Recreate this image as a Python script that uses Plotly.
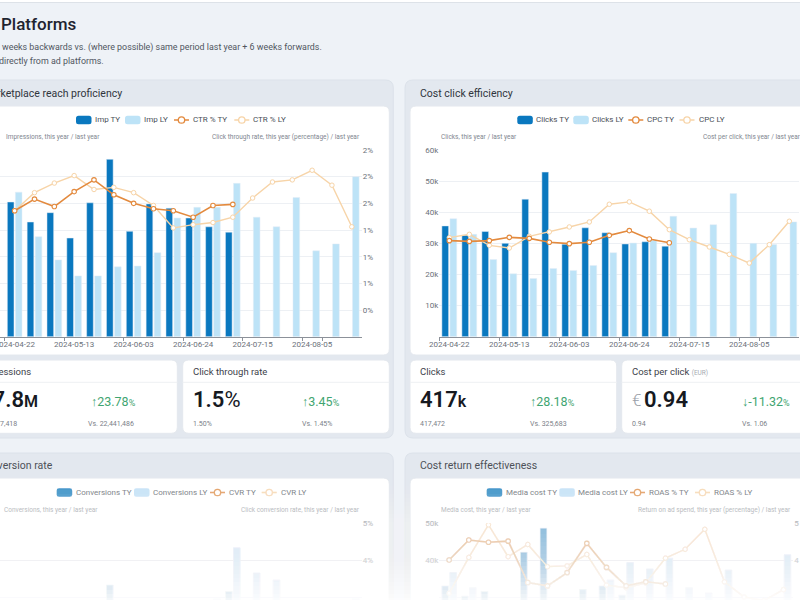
"""
Ad platforms dashboard: four weekly TY/LY combo charts with KPI cards,
bottom row fading out to white.
"""

import plotly.graph_objects as go

W, H = 800, 600

# ---------------- data ----------------
WEEKS = ["2024-04-22", "2024-04-29", "2024-05-06", "2024-05-13", "2024-05-20", "2024-05-27",
         "2024-06-03", "2024-06-10", "2024-06-17", "2024-06-24", "2024-07-01", "2024-07-08",
         "2024-07-15", "2024-07-22", "2024-07-29", "2024-08-05", "2024-08-12", "2024-08-19"]
WEEKS_TY = WEEKS[:12]
TICK_WEEKS = WEEKS[::3]

# impressions (millions) and click through rate (%)
IMP_TY = [2.525, 2.15, 2.325, 1.85, 2.51, 3.325, 1.975, 2.49, 2.41, 2.225, 2.06, 1.96]
IMP_LY = [2.71, 1.875, 1.44, 1.14, 1.14, 1.31, 1.325, 1.575, 2.225, 2.425, 2.425, 2.875,
          2.24, 2.06, 2.61, 1.61, 1.74, 3.0]
CTR_TY = [1.43, 1.54, 1.47, 1.61, 1.72, 1.58, 1.50, 1.45, 1.43, 1.37, 1.48, 1.49]
CTR_LY = [1.43, 1.60, 1.69, 1.76, 1.63, 1.65, 1.60, 1.48, 1.27, 1.30, 1.32, 1.37,
          1.55, 1.70, 1.72, 1.81, 1.67, 1.28]

# clicks and cost per click (EUR)
CLICKS_TY = [35600, 32600, 33800, 30000, 44200, 52900, 29700, 35000, 33400, 29800, 30500, 29100]
CLICKS_LY = [37900, 32900, 24800, 20200, 18700, 21900, 21300, 22900, 27000, 30100, 31000, 38700,
             34900, 36000, 46000, 30000, 29600, 36900]
CPC_TY = [0.926, 0.919, 0.926, 0.958, 0.948, 0.910, 0.897, 0.910, 0.977, 1.023, 0.942, 0.906]
CPC_LY = [0.955, 0.987, 0.881, 0.855, 0.968, 1.010, 1.058, 1.106, 1.277, 1.300, 1.210, 1.032,
          0.935, 0.865, 0.794, 0.710, 0.887, 1.113]

# conversions and click conversion rate (%)
CONV_TY = [2750, 2600, 2700, 2450, 2850, 3320, 2500, 2800, 2750, 2600, 2700, 3150]
CONV_LY = [2900, 2300, 1900, 1600, 1550, 1800, 1850, 2100, 2600, 2850, 2950, 4330,
           3650, 3460, 2900, 2500, 2700, 2950]
CVR_TY = [2.45, 2.50, 2.40, 2.60, 2.30, 2.20, 2.55, 2.40, 2.50, 2.60, 2.50, 2.70]
CVR_LY = [2.40, 2.30, 2.20, 2.25, 2.30, 2.35, 2.40, 2.50, 2.45, 2.50, 2.55, 2.75,
          2.70, 2.60, 2.20, 2.40, 2.50, 2.30]

# media cost (k EUR) and return on ad spend
MEDIA_TY = [33.0, 30.2, 31.5, 28.7, 42.1, 48.6, 26.6, 32.0, 33.0, 30.5, 28.7, 26.4]
MEDIA_LY = [36.6, 32.5, 21.8, 17.3, 18.1, 22.1, 22.5, 25.3, 34.6, 39.3, 37.6, 40.5,
            32.5, 31.1, 37.3, 21.3, 26.3, 41.4]
ROAS_TY = [4.00, 4.54, 4.48, 4.51, 3.39, 3.30, 3.66, 4.45, 3.80, 3.30, 3.41, 3.35]
ROAS_LY = [3.10, 4.07, 4.95, 4.09, 4.42, 3.82, 3.84, 4.15, 3.32, 3.25, 3.38, 4.05,
           4.29, 4.83, 3.41, 3.00, 2.90, 3.20]

CTR_TICKS = [0.5, 0.75, 1.0, 1.25, 1.5, 1.75, 2.0]
CTR_TICKTEXT = ["0%", "1%", "1%", "1%", "2%", "2%", "2%"]

# ---------------- style ----------------
FONT = "Roboto"
PAGE_BG = "#eef2f7"
PANEL_BG = "#e3e8ef"
C_TY = "#0a78bf"
C_LY = "#bde3f7"
C_RATE_TY = "#e38a3e"
C_RATE_LY = "#f7d4a8"
GRID = "#edf0f4"
AXIS = "#8c9199"
TICK_TXT = "#6c717a"
GREEN = "#3fa571"
LEG_TXT = "#4a4f57"

# fade-to-white overlay stops (pixel row, opacity)
FADE_STOPS = [(442, 0.0), (466, 0.14), (491, 0.30), (510, 0.45), (523, 0.56),
              (560, 0.72), (585, 0.88), (600, 0.96)]


def fx(x):
    return x / W


def fy(y):
    return 1 - y / H


def fade_at(y):
    if y <= FADE_STOPS[0][0]:
        return 0.0
    for (y0, a0), (y1, a1) in zip(FADE_STOPS, FADE_STOPS[1:]):
        if y <= y1:
            return a0 + (a1 - a0) * (y - y0) / (y1 - y0)
    return FADE_STOPS[-1][1]


def faded(hex_color, y):
    a = fade_at(y)
    h = hex_color.lstrip("#")
    rgb = [int(h[i:i + 2], 16) for i in (0, 2, 4)]
    rgb = [round(c + (255 - c) * a) for c in rgb]
    return "#%02x%02x%02x" % tuple(rgb)


shapes = []
annotations = []


def rrect(x0, y0, x1, y1, r, fill, line=None, layer="below"):
    """Rounded rectangle given in pixel coordinates."""
    def p(x, y):
        return f"{fx(x):.5f},{fy(y):.5f}"
    path = (f"M{p(x0 + r, y0)} L{p(x1 - r, y0)} Q{p(x1, y0)} {p(x1, y0 + r)} "
            f"L{p(x1, y1 - r)} Q{p(x1, y1)} {p(x1 - r, y1)} L{p(x0 + r, y1)} "
            f"Q{p(x0, y1)} {p(x0, y1 - r)} L{p(x0, y0 + r)} Q{p(x0, y0)} {p(x0 + r, y0)} Z")
    shapes.append(dict(type="path", path=path, xref="paper", yref="paper",
                       fillcolor=fill, layer=layer,
                       line=dict(color=line or fill, width=1 if line else 0)))


def hline(x0, x1, y, color, width=1, layer="below"):
    shapes.append(dict(type="line", xref="paper", yref="paper", x0=fx(x0), x1=fx(x1),
                       y0=fy(y), y1=fy(y), layer=layer, line=dict(color=color, width=width)))


def text(s, x, y, size, color, anchor="left", weight=None, fade=False):
    if fade:
        color = faded(color, y)
    annotations.append(dict(text=s, x=fx(x), y=fy(y), xref="paper", yref="paper",
                            xanchor=anchor, yanchor="middle", showarrow=False,
                            font=dict(family=FONT, size=size, color=color, weight=weight)))


def legend_bar(x0, yc, color, label, fade=False):
    rrect(x0, yc - 4.3, x0 + 15.5, yc + 4.3, 2.5, color, layer="above")
    text(label, x0 + 17, yc, 8, LEG_TXT, fade=fade)


def legend_line(x0, yc, color, label, fade=False):
    hline(x0, x0 + 15, yc, color, 1.5, layer="above")
    cx, r = x0 + 7.5, 3.2
    shapes.append(dict(type="circle", xref="paper", yref="paper", layer="above",
                       x0=fx(cx - r), x1=fx(cx + r), y0=fy(yc + r), y1=fy(yc - r),
                       fillcolor="white", line=dict(color=color, width=1.3)))
    text(label, x0 + 17, yc, 8, LEG_TXT, fade=fade)


# ---------------- page, panels, cards ----------------
rrect(-5, -5, 805, 2.3, 0, "#ffffff")
hline(0, 800, 2.5, "#dde2e8")

for x0, x1 in [(-20, 393.3), (405, 820)]:
    rrect(x0, 80, x1, 438, 8, PANEL_BG, line="#dce2ea")
    rrect(x0, 453, x1, 650, 8, PANEL_BG, line="#dce2ea")
rrect(-20, 106, 389.3, 355, 6, "#ffffff", line="#e4e8ee")
rrect(410, 106, 820, 355, 6, "#ffffff", line="#e4e8ee")
rrect(-20, 478, 389.3, 650, 6, "#ffffff", line="#e4e8ee")
rrect(410, 478, 820, 650, 6, "#ffffff", line="#e4e8ee")
for x0, x1 in [(-20, 177.3), (182.7, 389.3), (410, 616.7), (621.7, 820)]:
    rrect(x0, 360, x1, 433.3, 6, "#ffffff", line="#e4e8ee")
    hline(max(x0, 0), min(x1, 800), 382.3, "#eef0f3")

# ---------------- header texts ----------------
text("Platforms", -1, 24, 17, "#1f2430", weight=500)
text("Period: 12 weeks backwards vs. (where possible) same period last year + 6 weeks forwards.",
     324, 47, 8.9, "#50565f", anchor="right")
text("Data is drawn directly from ad platforms.", 105.5, 61, 8.9, "#50565f", anchor="right")

text("Marketplace reach proficiency", 123.5, 93, 10.5, "#30353d", anchor="right")
text("Cost click efficiency", 418, 93, 10.5, "#30353d")
text("Conversion rate", 54.5, 466, 10.5, "#30353d", anchor="right", fade=True)
text("Cost return effectiveness", 418, 466, 10.5, "#30353d", fade=True)

# axis captions
CAP = "#80868f"
text("Impressions, this year / last year", 3.5, 137, 6.5, CAP)
text("Click through rate, this year (percentage) / last year", 362, 137, 6.5, CAP, anchor="right")
text("Clicks, this year / last year", 438.5, 137, 6.5, CAP)
text("Cost per click, this year / last year", 803, 137, 6.5, CAP, anchor="right")
text("Conversions, this year / last year", 1.8, 510, 6.5, CAP, fade=True)
text("Click conversion rate, this year / last year", 362, 510, 6.5, CAP, anchor="right", fade=True)
text("Media cost, this year / last year", 438.5, 510, 6.5, CAP, fade=True)
text("Return on ad spend, this year (percentage) / last year", 792.5, 510, 6.5, CAP,
     anchor="right", fade=True)

# legends
legend_bar(76, 120, C_TY, "Imp TY")
legend_bar(125, 120, C_LY, "Imp LY")
legend_line(174, 120, C_RATE_TY, "CTR % TY")
legend_line(234.3, 120, C_RATE_LY, "CTR % LY")

legend_bar(517.3, 120, C_TY, "Clicks TY")
legend_bar(573.3, 120, C_LY, "Clicks LY")
legend_line(628.3, 120, C_RATE_TY, "CPC TY")
legend_line(679.5, 120, C_RATE_LY, "CPC LY")

legend_bar(56.7, 492.5, C_TY, "Conversions TY", fade=True)
legend_bar(134, 492.5, C_LY, "Conversions LY", fade=True)
legend_line(210, 492.5, C_RATE_TY, "CVR TY", fade=True)
legend_line(261.7, 492.5, C_RATE_LY, "CVR LY", fade=True)

legend_bar(486.7, 492.5, C_TY, "Media cost TY", fade=True)
legend_bar(559.3, 492.5, C_LY, "Media cost LY", fade=True)
legend_line(630, 492.5, C_RATE_TY, "ROAS % TY", fade=True)
legend_line(695, 492.5, C_RATE_LY, "ROAS % LY", fade=True)

# ---------------- KPI cards ----------------
KPI_T = "#3d424a"
KPI_V = "#16191f"
KPI_S = "#7b8088"

text("Impressions", 32.5, 371, 9.5, KPI_T, anchor="right")
text("27.8<span style='font-size:16px'>M</span>", 40, 399.5, 22, KPI_V, anchor="right", weight=600)
text("↑23.78<span style='font-size:9px'>%</span>", 88.5, 401, 12.5, GREEN)
text("27,777,418", 18.5, 424, 7, KPI_S, anchor="right")
text("Vs. 22,441,486", 85.5, 424, 7, KPI_S)

text("Click through rate", 191, 371, 9.5, KPI_T)
text("1.5<span style='font-weight:400'>%</span>", 191, 399.5, 22, KPI_V, weight=600)
text("↑3.45<span style='font-size:9px'>%</span>", 299.5, 401, 12.5, GREEN)
text("1.50%", 191, 424, 7, KPI_S)
text("Vs. 1.45%", 299.5, 424, 7, KPI_S)

text("Clicks", 418.5, 371, 9.5, KPI_T)
text("417<span style='font-size:16px'>k</span>", 418.5, 399.5, 22, KPI_V, weight=600)
text("↑28.18<span style='font-size:9px'>%</span>", 527.5, 401, 12.5, GREEN)
text("417,472", 418.5, 424, 7, KPI_S)
text("Vs. 325,683", 527.5, 424, 7, KPI_S)

text("Cost per click <span style='font-size:6.5px;color:#a6abb2'>(EUR)</span>", 630, 371, 9.5, KPI_T)
text("€", 630, 400, 17, "#9aa0a8", weight=300)
text("0.94", 642, 399.5, 22, KPI_V, weight=600)
text("↓-11.32<span style='font-size:9px'>%</span>", 739.5, 401, 12.5, GREEN)
text("0.94", 630, 424, 7, KPI_S)
text("Vs. 1.06", 739.5, 424, 7, KPI_S)

# ---------------- charts ----------------
fig = go.Figure()


def add_combo(xa, ya_left, ya_right, bar_ty, bar_ly, rate_ty, rate_ly, name_bar, name_rate):
    fig.add_trace(go.Bar(x=WEEKS_TY, y=bar_ty, name=name_bar + " TY", marker_color=C_TY,
                         xaxis=xa, yaxis=ya_left, showlegend=False))
    fig.add_trace(go.Bar(x=WEEKS, y=bar_ly, name=name_bar + " LY", marker_color=C_LY,
                         xaxis=xa, yaxis=ya_left, showlegend=False))
    fig.add_trace(go.Scatter(x=WEEKS, y=rate_ly, name=name_rate + " LY", mode="lines+markers",
                             line=dict(color=C_RATE_LY, width=1.4),
                             marker=dict(size=4.5, color="white", line=dict(color=C_RATE_LY, width=1)),
                             xaxis=xa, yaxis=ya_right, showlegend=False))
    fig.add_trace(go.Scatter(x=WEEKS_TY, y=rate_ty, name=name_rate + " TY", mode="lines+markers",
                             line=dict(color=C_RATE_TY, width=1.6),
                             marker=dict(size=4.5, color="white", line=dict(color=C_RATE_TY, width=1.1)),
                             xaxis=xa, yaxis=ya_right, showlegend=False))


add_combo("x", "y", "y2", IMP_TY, IMP_LY, CTR_TY, CTR_LY, "Imp", "CTR %")
add_combo("x2", "y3", "y4", CLICKS_TY, CLICKS_LY, CPC_TY, CPC_LY, "Clicks", "CPC")
add_combo("x3", "y5", "y6", CONV_TY, CONV_LY, CVR_TY, CVR_LY, "Conversions", "CVR")
add_combo("x4", "y7", "y8", MEDIA_TY, MEDIA_LY, ROAS_TY, ROAS_LY, "Media cost", "ROAS %")

tickfont = dict(family=FONT, size=8, color=TICK_TXT)

x_top = dict(type="category", showline=True, linecolor=AXIS, linewidth=1, ticks="outside",
             ticklen=3, tickcolor=AXIS, tickson="boundaries", tickmode="array",
             tickvals=TICK_WEEKS, tickangle=0, showgrid=False, tickfont=tickfont,
             fixedrange=True, automargin=False)
x_bottom = dict(type="category", visible=False, fixedrange=True, automargin=False)
y_left = dict(showgrid=True, gridcolor=GRID, gridwidth=1, zeroline=False, showline=False,
              ticks="", tickfont=tickfont, fixedrange=True, automargin=False)
y_right = dict(showgrid=False, zeroline=False, showline=False, ticks="", side="right",
               tickfont=tickfont, fixedrange=True, automargin=False)

LEFT_DOM = [0, fx(361.7)]
RIGHT_DOM = [fx(439.3), fx(799.3)]
RIGHT_DOM_B = [fx(439.3), fx(793.3)]
TOP_DOM = [fy(336.7), fy(150)]
BOT_DOM = [0, fy(523)]

fig.update_layout(
    width=W, height=H,
    margin=dict(l=0, r=0, t=0, b=0, pad=0),
    paper_bgcolor=PAGE_BG,
    plot_bgcolor="rgba(0,0,0,0)",
    font=dict(family=FONT),
    barmode="group", bargap=0.19, bargroupgap=0.17,
    showlegend=False,
    xaxis=dict(x_top, domain=LEFT_DOM, range=[-0.74, 17.5], anchor="y"),
    yaxis=dict(y_left, domain=TOP_DOM, anchor="x", range=[0, 3.5], dtick=0.5,
               showticklabels=False),
    yaxis2=dict(y_right, overlaying="y", anchor="x", range=[0.25, 2.0],
                tickvals=CTR_TICKS, ticktext=CTR_TICKTEXT),
    xaxis2=dict(x_top, domain=RIGHT_DOM, range=[-0.5, 17.5], anchor="y3"),
    yaxis3=dict(y_left, domain=TOP_DOM, anchor="x2", range=[0, 60000],
                tickvals=[10000, 20000, 30000, 40000, 50000, 60000],
                ticktext=["10k", "20k", "30k", "40k", "50k", "60k"]),
    yaxis4=dict(y_right, overlaying="y3", anchor="x2", range=[0, 1.8], showticklabels=False),
    xaxis3=dict(x_bottom, domain=LEFT_DOM, range=[-0.74, 17.5], anchor="y5"),
    yaxis5=dict(y_left, domain=BOT_DOM, anchor="x3", range=[2919, 5000],
                tickvals=[3000, 4000, 5000], showticklabels=False),
    yaxis6=dict(y_right, overlaying="y5", anchor="x3", range=[2.919, 5.0],
                tickvals=[3, 4, 5], ticktext=["3%", "4%", "5%"]),
    xaxis4=dict(x_bottom, domain=RIGHT_DOM_B, range=[-0.5, 17.5], anchor="y7"),
    yaxis7=dict(y_left, domain=BOT_DOM, anchor="x4", range=[29.19, 50],
                tickvals=[30, 40, 50], ticktext=["30k", "40k", "50k"]),
    yaxis8=dict(y_right, overlaying="y7", anchor="x4", range=[2.919, 5.0],
                tickvals=[3, 4, 5], ticktext=["3", "4", "5"]),
)

# fade-out overlay: nested white rectangles down to the bottom edge
prev = 0.0
for y0 in range(442, 600, 4):
    target = fade_at(y0 + 2)
    op = 1 - (1 - target) / (1 - prev)
    prev = target
    shapes.append(dict(type="rect", xref="paper", yref="paper", layer="above",
                       x0=-0.01, x1=1.01, y0=-0.01, y1=fy(y0),
                       fillcolor="white", opacity=max(op, 0), line=dict(width=0)))

fig.update_layout(shapes=shapes, annotations=annotations)

# page body has a default 8px margin; drop it so the figure sits at the window corner
fig.write_html("out.html", config={"displayModeBar": False},
               post_script="document.body.style.margin = '0';")
